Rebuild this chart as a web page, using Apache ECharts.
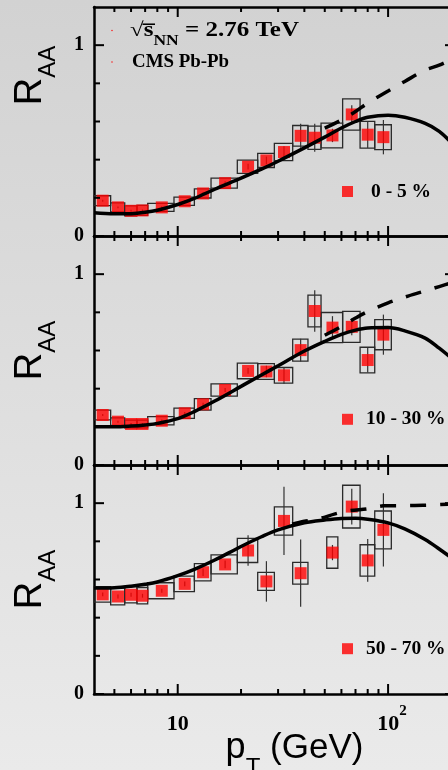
<!DOCTYPE html>
<html><head><meta charset="utf-8">
<script src="https://cdn.jsdelivr.net/npm/echarts@6/dist/echarts.min.js"></script>
<style>html,body{margin:0;padding:0;background:#dddddd}#c{width:448px;height:770px}</style>
</head><body><div id="c"></div>
<script>
// ---------- data ----------
const xMinorTicks = [5, 6, 7, 8, 9, 20, 30, 40, 50, 60, 70, 80, 90, 200];
const xMajorTicks = [10, 100];
const xLabelVals = [10, 100];
const yMajorTicks = [0, 1];
const yMinorTicks = [0.2, 0.4, 0.6, 0.8];
const yLabelVals = [0, 1];

// pT bins (GeV) and point positions
const ptLo = [4, 4.8, 5.6, 6.4, 7.2, 9.6, 12, 14.4, 19.2, 24, 28.8, 35.2, 41.6, 48, 60.8, 73.6, 86.4];
const ptHi = [4.8, 5.6, 6.4, 7.2, 9.6, 12, 14.4, 19.2, 24, 28.8, 35.2, 41.6, 48, 60.8, 73.6, 86.4, 103.6];
const pt   = [4.4, 5.2, 6.0, 6.8, 8.4, 10.8, 13.2, 16.8, 21.6, 26.4, 32.0, 38.4, 44.8, 54.4, 67.2, 80.0, 95.0];

// 0-5 %
const raa1  = [0.185, 0.150, 0.132, 0.134, 0.150, 0.182, 0.223, 0.277, 0.363, 0.396, 0.440, 0.525, 0.515, 0.527, 0.637, 0.531, 0.518];
const sys1  = [0.026, 0.024, 0.026, 0.026, 0.021, 0.022, 0.024, 0.026, 0.035, 0.037, 0.045, 0.054, 0.061, 0.065, 0.082, 0.070, 0.065];
const stat1 = [0.005, 0.005, 0.005, 0.005, 0.006, 0.007, 0.008, 0.010, 0.015, 0.020, 0.030, 0.063, 0.073, 0.035, 0.048, 0.070, 0.090];

// 10-30 %
const raa2  = [0.262, 0.227, 0.215, 0.215, 0.232, 0.271, 0.318, 0.393, 0.493, 0.490, 0.470, 0.602, 0.807, 0.720, 0.724, 0.550, 0.683];
const sys2  = [0.026, 0.020, 0.020, 0.020, 0.022, 0.027, 0.030, 0.032, 0.041, 0.041, 0.041, 0.058, 0.083, 0.079, 0.081, 0.067, 0.079];
const stat2 = [0.005, 0.005, 0.005, 0.005, 0.006, 0.007, 0.008, 0.010, 0.015, 0.030, 0.044, 0.060, 0.109, 0.060, 0.044, 0.065, 0.105];

// 50-70 %
const ptLo3 = [4, 4.8, 5.6, 6.4, 7.2, 9.6, 12, 14.4, 19.2, 24, 28.8, 35.2, 51.1, 60.8, 73.6, 86.4];
const ptHi3 = [4.8, 5.6, 6.4, 7.2, 9.6, 12, 14.4, 19.2, 24, 28.8, 35.2, 41.6, 57.7, 73.6, 86.4, 103.6];
const pt3   = [4.4, 5.2, 6.0, 6.8, 8.4, 10.8, 13.2, 16.8, 21.6, 26.4, 32.0, 38.4, 54.4, 67.2, 80.0, 95.0];
const raa3  = [0.522, 0.511, 0.520, 0.515, 0.541, 0.577, 0.638, 0.679, 0.752, 0.590, 0.907, 0.633, 0.741, 0.982, 0.700, 0.860];
const sys3  = [0.041, 0.044, 0.043, 0.043, 0.042, 0.041, 0.045, 0.050, 0.063, 0.047, 0.074, 0.057, 0.082, 0.112, 0.082, 0.099];
const stat3 = [0.010, 0.010, 0.010, 0.010, 0.010, 0.012, 0.020, 0.020, 0.080, 0.106, 0.179, 0.176, 0.040, 0.094, 0.112, 0.192];

// model curves
const curveX = [4, 5, 6, 7, 8, 10, 12, 15, 20, 25, 30, 40, 50, 60, 70, 80, 100, 120, 150, 175, 208];
const solid1 = [0.122, 0.116, 0.117, 0.124, 0.135, 0.165, 0.197, 0.245, 0.303, 0.350, 0.392, 0.462, 0.518, 0.566, 0.600, 0.622, 0.633, 0.622, 0.590, 0.548, 0.470];
const solid2 = [0.200, 0.200, 0.204, 0.210, 0.218, 0.243, 0.280, 0.335, 0.412, 0.472, 0.520, 0.597, 0.648, 0.685, 0.707, 0.718, 0.720, 0.703, 0.665, 0.612, 0.545];
const solid3 = [0.555, 0.557, 0.565, 0.575, 0.587, 0.620, 0.653, 0.702, 0.773, 0.824, 0.860, 0.897, 0.912, 0.920, 0.921, 0.916, 0.897, 0.865, 0.810, 0.760, 0.700];

const dashX1 = [50, 60, 70, 80, 100, 120, 150, 175, 208];
const dash1  = [0.565, 0.608, 0.652, 0.697, 0.760, 0.810, 0.869, 0.895, 0.935];
const dashX2 = [50, 60, 70, 80, 100, 120, 150, 175, 208];
const dash2  = [0.680, 0.726, 0.770, 0.804, 0.850, 0.880, 0.912, 0.935, 0.960];
const dashX3 = [35, 40, 47.5, 56, 66, 80, 95, 112, 134, 160, 208];
const dash3  = [0.890, 0.905, 0.920, 0.944, 0.961, 0.970, 0.986, 0.987, 0.988, 0.990, 0.997];

const centralityLabels = ['0 - 5 %', '10 - 30 %', '50 - 70 %'];

// ---------- chart ----------
const SERIF = "'Liberation Serif', 'Times New Roman', serif";
const SANS = "'Liberation Sans', Arial, sans-serif";
const X_MIN = 4, X_MAX = 208, Y_MIN = 0, Y_MAX = 1.2;

const panels = [
  {lo: ptLo, hi: ptHi, pt: pt, raa: raa1, sys: sys1, stat: stat1, solid: solid1, dx: dashX1, dy: dash1},
  {lo: ptLo, hi: ptHi, pt: pt, raa: raa2, sys: sys2, stat: stat2, solid: solid2, dx: dashX2, dy: dash2},
  {lo: ptLo3, hi: ptHi3, pt: pt3, raa: raa3, sys: sys3, stat: stat3, solid: solid3, dx: dashX3, dy: dash3}
];
const gridTops = [7, 236, 465];
const legendPos = [[342, 181.5, 13], [342, 409.3, 8], [342, 638.7, 8]];
const yNamePad = [[0, 0, 0, 92], [0, 0, 0, 0], [0, 0, 0, 0]];

const grid = [], xAxis = [], yAxis = [], series = [], legend = [];
const lineSt = {show: true, onZero: false, lineStyle: {color: '#000', width: 2.5}};
const tickStyle = {stroke: '#000', lineWidth: 2};
const xTickData = xMinorTicks.map(v => [v, 5]).concat(xMajorTicks.map(v => [v, 10]));
const yTickData = yMinorTicks.map(v => [v, 6]).concat(yMajorTicks.map(v => [v, 10]));

panels.forEach((p, g) => {
  grid.push({left: 94, top: gridTops[g], width: 361, height: 229, containLabel: false, outerBoundsMode: 'none'});
  const baseX = {type: 'log', logBase: 10, gridIndex: g, min: X_MIN, max: X_MAX, splitLine: {show: false},
    axisLabel: {show: false}, axisTick: {show: false}, axisLine: lineSt};
  const bottom = Object.assign({}, baseX, {position: 'bottom'});
  if (g === 2) {
    bottom.axisLabel = {
      show: true, customValues: xLabelVals, margin: 19,
      formatter: v => (Math.round(v) === 100 ? '{bp|10}{sup|2}' : '{bt|10}'),
      rich: {
        bt: {fontFamily: SERIF, fontWeight: 'bold', fontSize: 22, color: '#000', lineHeight: 22, verticalAlign: 'bottom', padding: [10, 0, 0, 0]},
        bp: {fontFamily: SERIF, fontWeight: 'bold', fontSize: 22, color: '#000', lineHeight: 22, verticalAlign: 'bottom', padding: [0, 0, 0, 8]},
        sup: {fontFamily: SERIF, fontWeight: 'bold', fontSize: 15, color: '#000', lineHeight: 16, verticalAlign: 'bottom', padding: [0, 0, 16, 0]}
      }
    };
    bottom.name = '{p|p}{t|T}{g| (GeV)}';
    bottom.nameLocation = 'middle';
    bottom.nameGap = 36;
    bottom.nameMoveOverlap = false;
    bottom.nameTextStyle = {
      color: '#000', padding: [0, 0, 0, 40],
      rich: {
        p: {fontFamily: SANS, fontSize: 36, color: '#000', verticalAlign: 'bottom', padding: [0, 0, 14, 0]},
        t: {fontFamily: SANS, fontSize: 24, color: '#000', verticalAlign: 'bottom'},
        g: {fontFamily: SANS, fontSize: 35, color: '#000', verticalAlign: 'bottom', padding: [0, 0, 14, 0]}
      }
    };
  }
  xAxis.push(bottom);
  xAxis.push(Object.assign({}, baseX, {position: 'top'}));

  const baseY = {type: 'value', gridIndex: g, min: Y_MIN, max: Y_MAX, splitLine: {show: false},
    axisLabel: {show: false}, axisTick: {show: false}, axisLine: lineSt};
  yAxis.push(Object.assign({}, baseY, {
    position: 'left',
    axisLabel: {show: true, customValues: yLabelVals, margin: 10, fontFamily: SERIF, fontWeight: 'bold', fontSize: 20, color: '#000'},
    name: '{r|R}{s|AA}', nameLocation: 'middle', nameRotate: 90, nameGap: 34, nameMoveOverlap: false,
    nameTextStyle: {
      color: '#000', padding: yNamePad[g],
      rich: {
        r: {fontFamily: SANS, fontSize: 38, color: '#000', verticalAlign: 'bottom', padding: [0, 0, 10, 0]},
        s: {fontFamily: SANS, fontSize: 24, color: '#000', verticalAlign: 'bottom'}
      }
    }
  }));
  yAxis.push(Object.assign({}, baseY, {position: 'right'}));

  const xi = 2 * g, yi = 2 * g;
  // inward x ticks on bottom and top frame
  series.push({
    type: 'custom', xAxisIndex: xi, yAxisIndex: yi, silent: true, z: 6,
    data: xTickData, encode: {x: 0},
    renderItem: (params, api) => {
      const v = api.value(0), len = api.value(1);
      const b = api.coord([v, Y_MIN]), t = api.coord([v, Y_MAX]);
      return {type: 'group', children: [
        {type: 'line', shape: {x1: b[0], y1: b[1], x2: b[0], y2: b[1] - len}, style: tickStyle},
        {type: 'line', shape: {x1: t[0], y1: t[1], x2: t[0], y2: t[1] + len}, style: tickStyle}
      ]};
    }
  });
  // inward y ticks on left and right frame
  series.push({
    type: 'custom', xAxisIndex: xi, yAxisIndex: yi, silent: true, z: 6,
    data: yTickData, encode: {y: 0},
    renderItem: (params, api) => {
      const v = api.value(0), len = api.value(1);
      const l = api.coord([X_MIN, v]), r = api.coord([X_MAX, v]);
      return {type: 'group', children: [
        {type: 'line', shape: {x1: l[0], y1: l[1], x2: l[0] + len, y2: l[1]}, style: tickStyle},
        {type: 'line', shape: {x1: r[0], y1: r[1], x2: r[0] - len, y2: r[1]}, style: tickStyle}
      ]};
    }
  });
  series.push({
    type: 'custom', xAxisIndex: xi, yAxisIndex: yi, silent: true, z: 2,
    data: p.lo.map((l, i) => [l, p.hi[i], p.raa[i], p.sys[i]]),
    encode: {x: [0, 1], y: 2},
    renderItem: (params, api) => {
      const a = api.coord([api.value(0), api.value(2) + api.value(3)]);
      const b = api.coord([api.value(1), api.value(2) - api.value(3)]);
      return {type: 'rect', shape: {x: a[0], y: a[1], width: b[0] - a[0], height: b[1] - a[1]},
        style: {fill: 'none', stroke: '#2a2a2a', lineWidth: 1.3}};
    }
  });
  series.push({
    type: 'custom', xAxisIndex: xi, yAxisIndex: yi, silent: true, z: 2,
    data: p.pt.map((x, i) => [x, p.raa[i], p.stat[i]]),
    encode: {x: 0, y: 1},
    renderItem: (params, api) => {
      const a = api.coord([api.value(0), api.value(1) + api.value(2)]);
      const b = api.coord([api.value(0), api.value(1) - api.value(2)]);
      return {type: 'line', shape: {x1: a[0], y1: a[1], x2: b[0], y2: b[1]},
        style: {stroke: '#333', lineWidth: 1.2}};
    }
  });
  series.push({
    type: 'scatter', name: centralityLabels[g], xAxisIndex: xi, yAxisIndex: yi, z: 3,
    symbol: 'rect', symbolSize: 12, itemStyle: {color: '#ff0000'},
    data: p.pt.map((x, i) => [x, p.raa[i]])
  });
  series.push({
    type: 'line', xAxisIndex: xi, yAxisIndex: yi, z: 4, showSymbol: false, smooth: 0.35, silent: true,
    lineStyle: {color: '#000', width: 3.5},
    data: curveX.map((x, i) => [x, p.solid[i]])
  });
  series.push({
    type: 'line', xAxisIndex: xi, yAxisIndex: yi, z: 4, showSymbol: false, smooth: 0.35, silent: true,
    lineStyle: {color: '#000', width: 3.5, type: [16, 14]},
    data: p.dx.map((x, i) => [x, p.dy[i]])
  });
  legend.push({
    data: [centralityLabels[g]], left: legendPos[g][0], top: legendPos[g][1], padding: 0,
    icon: 'rect', itemWidth: 11, itemHeight: 11, selectedMode: false,
    textStyle: {fontFamily: SERIF, fontWeight: 'bold', fontSize: 19.5, color: '#000', lineHeight: 20, padding: [0, 0, 0, legendPos[g][2]]}
  });
});

const chart = echarts.init(document.getElementById('c'));
chart.setOption({
  animation: false,
  backgroundColor: new echarts.graphic.LinearGradient(0, 0, 0, 1, [
    {offset: 0, color: '#d2d2d2'}, {offset: 1, color: '#eaeaea'}
  ]),
  graphic: [
    {type: 'text', x: 130, y: 48, scaleX: 1.25, silent: true, z: 10,
      style: {text: '{a|√}{s|s̅}{n|NN}{t| = 2.76 TeV}', verticalAlign: 'bottom', align: 'left',
        rich: {
          a: {fontFamily: SERIF, fontWeight: 'bold', fontSize: 20, fill: '#000', verticalAlign: 'bottom', padding: [0, 0, 7, 0]},
          s: {fontFamily: SERIF, fontWeight: 'bold', fontSize: 20, fill: '#000', verticalAlign: 'bottom', padding: [0, 0, 7, 0]},
          n: {fontFamily: SERIF, fontWeight: 'bold', fontSize: 14, fill: '#000', verticalAlign: 'bottom'},
          t: {fontFamily: SERIF, fontWeight: 'bold', fontSize: 20, fill: '#000', verticalAlign: 'bottom', padding: [0, 0, 7, 0]}
        }}},
    {type: 'text', x: 132, y: 62, scaleX: 1.05, silent: true, z: 10,
      style: {text: 'CMS Pb-Pb', fontFamily: SERIF, fontWeight: 'bold', fontSize: 18, fill: '#000', verticalAlign: 'middle', align: 'left'}},
    {type: 'circle', shape: {cx: 112, cy: 30.5, r: 0.7}, style: {fill: '#ff0000'}, silent: true},
    {type: 'circle', shape: {cx: 112, cy: 62, r: 0.7}, style: {fill: '#ff0000'}, silent: true}
  ],
  legend: legend,
  grid: grid,
  xAxis: xAxis,
  yAxis: yAxis,
  series: series
});
</script>
</body></html>
